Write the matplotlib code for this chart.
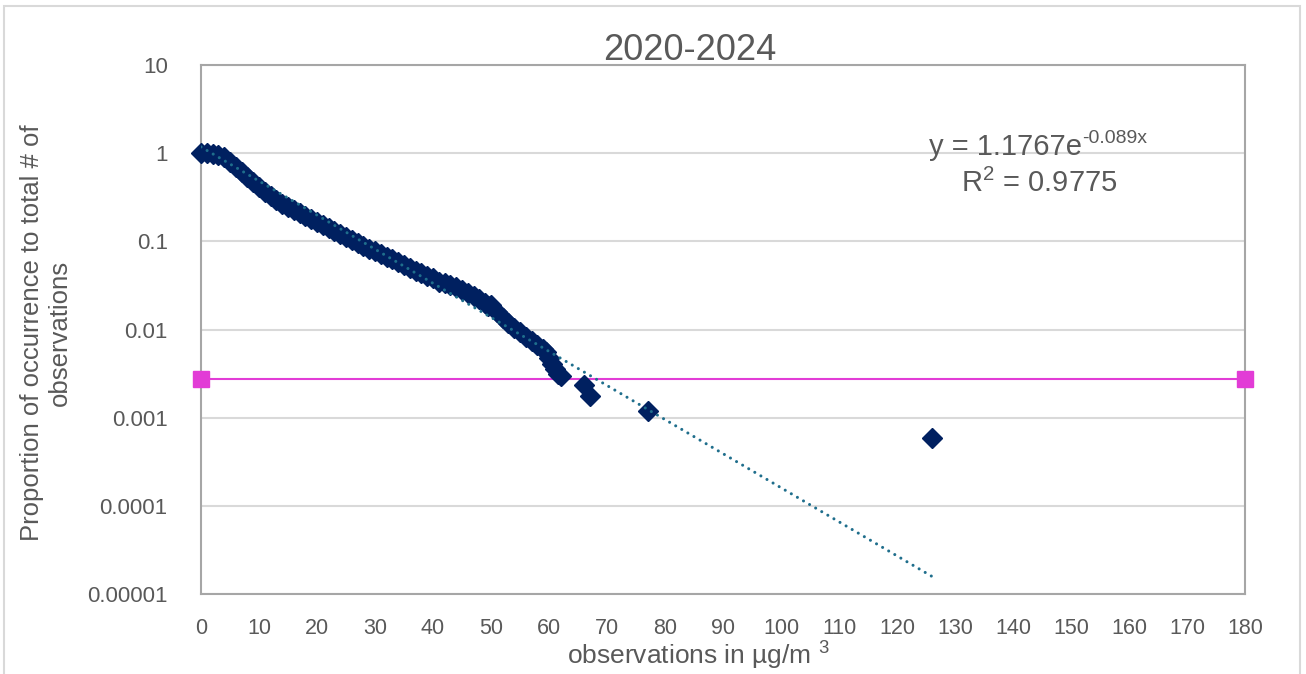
import numpy as np
import matplotlib.pyplot as plt
from matplotlib.patches import Rectangle
from matplotlib.ticker import FixedLocator, FixedFormatter

# exceedance proportion vs concentration
conc = [0, 1, 2, 3, 4, 5, 6, 7, 8, 9, 10, 11, 12, 13, 14, 15, 16, 17, 18, 19,
        20, 21, 22, 23, 24, 25, 26, 27, 28, 29, 30, 31, 32, 33, 34, 35, 36, 37,
        38, 39, 40, 41, 42, 43, 44, 45, 46, 47, 48, 49, 49.5, 50, 51, 52, 53,
        54, 55, 56, 57, 58, 59, 59.5, 60, 60.5, 61, 61.5, 62, 66, 67, 77, 126]
prop = [1.0, 0.995, 0.985, 0.96, 0.90, 0.79, 0.69, 0.61, 0.53, 0.47, 0.41,
        0.36, 0.325, 0.293, 0.264, 0.244, 0.226, 0.209, 0.193, 0.179, 0.165,
        0.153, 0.141, 0.130, 0.121, 0.112, 0.103, 0.096, 0.088, 0.082, 0.077,
        0.072, 0.066, 0.063, 0.058, 0.054, 0.050, 0.046, 0.0436, 0.040, 0.038,
        0.035, 0.0336, 0.0319, 0.0304, 0.028, 0.0259, 0.0239, 0.0221, 0.0199,
        0.0184, 0.0190, 0.0157, 0.0135, 0.0118, 0.0104, 0.0093, 0.0082, 0.0074,
        0.0067, 0.0060, 0.0056, 0.0047, 0.0041, 0.0036, 0.0031, 0.00294,
        0.00235, 0.00176, 0.00118, 0.00059]

# once-a-year threshold line (1/365)
thresh_x = [0, 180]
thresh_y = [1 / 365, 1 / 365]

# exponential trendline coefficients (from the chart label)
fit_a, fit_b = 1.1767, -0.089
fit_r2 = 0.9775
fit_xmax = 126

y_ticks = [10, 1, 0.1, 0.01, 0.001, 0.0001, 0.00001]
y_ticklabels = ["10", "1", "0.1", "0.01", "0.001", "0.0001", "0.00001"]
x_ticks = list(range(0, 181, 10))

W, H = 1306, 674
GREY = "#595959"
REG = ["Liberation Sans", "DejaVu Sans"]

fig = plt.figure(figsize=(W / 100, H / 100), dpi=100)
fig.patch.set_facecolor("white")
fig.add_artist(Rectangle((4 / W, -0.02), (1300 - 4) / W, 1.02 - 6 / H,
                         transform=fig.transFigure, fill=False,
                         edgecolor="#D9D9D9", lw=1.5))

ax = fig.add_axes([201 / W, 1 - 594 / H, (1245 - 201) / W, (594 - 65) / H])
ax.set_yscale("log")
ax.set_xlim(0, 180)
ax.set_ylim(1e-5, 10)

ax.yaxis.set_major_locator(FixedLocator(y_ticks))
ax.yaxis.set_major_formatter(FixedFormatter(y_ticklabels))
ax.yaxis.set_minor_locator(FixedLocator([]))
ax.set_xticks(x_ticks)
ax.grid(axis="y", color="#D9D9D9", lw=1.5)
ax.set_axisbelow(True)
ax.tick_params(length=0)
ax.tick_params(axis="y", pad=24, labelsize=16, labelcolor=GREY)
ax.tick_params(axis="x", pad=17, labelsize=15.5, labelcolor=GREY)
for lab in ax.get_xticklabels() + ax.get_yticklabels():
    lab.set_family(REG)
for sp in ax.spines.values():
    sp.set_color("#A6A6A6")
    sp.set_linewidth(1.5)

ax.plot(thresh_x, thresh_y, color="#E23CD6", lw=1.5, marker="s", ms=11,
        clip_on=False, zorder=3)
ax.plot(conc, prop, ls="none", marker="D", ms=10.5, color="#002060",
        zorder=4, clip_on=False)
xf = np.linspace(0, fit_xmax, 300)
ax.plot(xf, fit_a * np.exp(fit_b * xf), color="#1F6E8C", lw=2.2,
        ls=(0, (0.01, 2.3)), dash_capstyle="round", zorder=5)

fig.text(690 / W, 1 - 50 / H, "2020-2024", ha="center", va="center",
         fontsize=26, color=GREY, family=REG)
# equation: main part plus a raised exponent written with a plain hyphen
fig.text(1082 / W, 1 - 155 / H, f"y = {fit_a}e", ha="right",
         va="baseline", fontsize=21, color=GREY, family=REG)
fig.text(1082 / W, 1 - 143 / H, f"{fit_b}x",
         ha="left", va="baseline", fontsize=14, color=GREY, family=REG)
fig.text(1039 / W, 1 - 183 / H, f"R$\\mathregular{{^2}}$ = {fit_r2}",
         ha="center", va="center", fontsize=21, color=GREY, family=REG)
fig.text(46 / W, 1 - 333 / H,
         "Proportion of occurrence to total # of\nobservations",
         rotation=90, ha="center", va="center", fontsize=18.5, color=GREY,
         family=REG, linespacing=1.25)
fig.text(698 / W, 1 - 656 / H, "observations in µg/m $\\mathregular{^3}$",
         ha="center", va="center", fontsize=19, color=GREY, family=REG)

fig.savefig("out.png", dpi=100)
